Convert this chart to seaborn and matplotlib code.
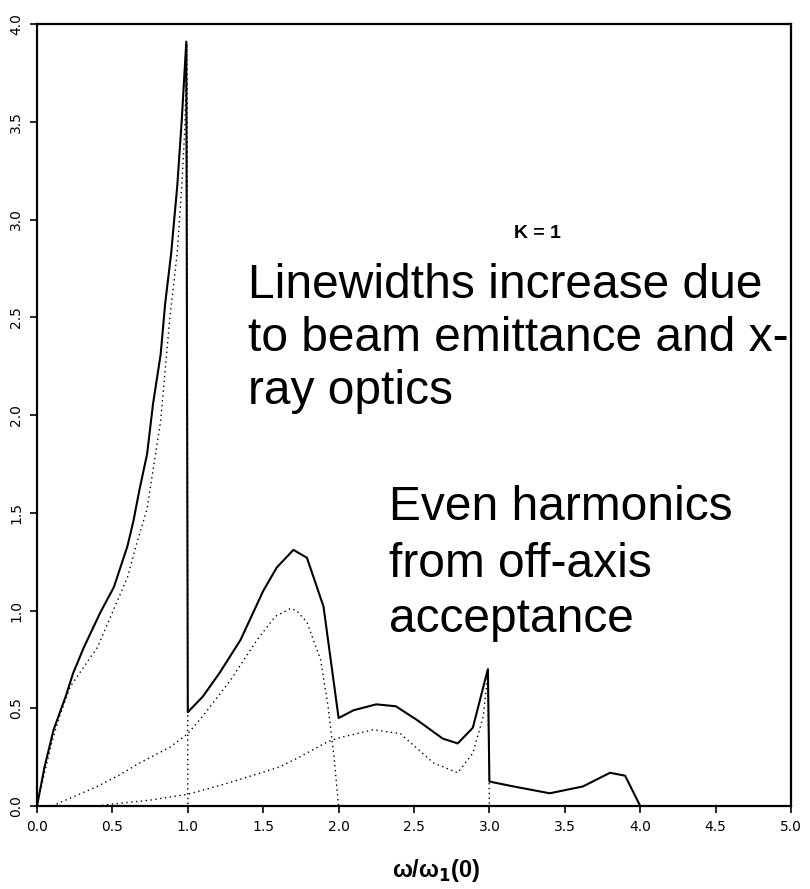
import matplotlib
matplotlib.use("Agg")
import matplotlib.pyplot as plt
import seaborn as sns
import pandas as pd

# ---- data ----
total_x = [0.0, 0.05, 0.11, 0.19, 0.24, 0.31, 0.42, 0.51, 0.60, 0.64, 0.68, 0.73, 0.77,
           0.82, 0.85, 0.89, 0.93, 0.96, 0.99, 1.0, 1.1, 1.21, 1.35, 1.50, 1.59, 1.70,
           1.79, 1.90, 2.0, 2.10, 2.25, 2.38, 2.52, 2.69, 2.79, 2.89, 2.99, 3.0, 3.16,
           3.40, 3.62, 3.80, 3.90, 4.0]
total_y = [0.0, 0.20, 0.39, 0.56, 0.68, 0.81, 0.99, 1.12, 1.33, 1.46, 1.62, 1.80, 2.06,
           2.31, 2.57, 2.83, 3.17, 3.51, 3.91, 0.48, 0.56, 0.68, 0.85, 1.10, 1.22, 1.31,
           1.27, 1.02, 0.45, 0.49, 0.52, 0.51, 0.44, 0.345, 0.32, 0.40, 0.70, 0.125, 0.10,
           0.065, 0.10, 0.17, 0.155, 0.0]

harm1_x = [0.0, 0.05, 0.10, 0.15, 0.22, 0.30, 0.40, 0.50, 0.60, 0.66, 0.73, 0.77, 0.82,
           0.85, 0.88, 0.93, 0.96, 0.98, 0.995, 1.0]
harm1_y = [0.0, 0.17, 0.33, 0.46, 0.61, 0.70, 0.81, 0.99, 1.17, 1.34, 1.52, 1.72, 1.97,
           2.23, 2.49, 2.83, 3.17, 3.46, 3.90, 0.0]

harm2_x = [0.10, 0.25, 0.40, 0.55, 0.68, 0.88, 1.0, 1.10, 1.28, 1.46, 1.58, 1.68, 1.72,
           1.79, 1.88, 1.93, 1.97, 2.0]
harm2_y = [0.0, 0.05, 0.10, 0.16, 0.22, 0.30, 0.37, 0.46, 0.64, 0.85, 0.97, 1.01, 1.0,
           0.94, 0.75, 0.51, 0.25, 0.0]

harm3_x = [0.40, 0.50, 0.75, 1.0, 1.28, 1.61, 1.74, 1.93, 2.01, 2.23, 2.41, 2.63, 2.79,
           2.89, 2.96, 2.99, 3.0]
harm3_y = [0.0, 0.01, 0.03, 0.06, 0.12, 0.20, 0.25, 0.33, 0.35, 0.39, 0.37, 0.22, 0.17,
           0.27, 0.46, 0.68, 0.0]

x_ticks = [0.0, 0.5, 1.0, 1.5, 2.0, 2.5, 3.0, 3.5, 4.0, 4.5, 5.0]
y_ticks = [0.0, 0.5, 1.0, 1.5, 2.0, 2.5, 3.0, 3.5, 4.0]

note1_lines = ["Linewidths increase due", "to beam emittance and x-", "ray optics"]
note2_lines = ["Even harmonics", "from off-axis", "acceptance"]

sns.set_style("ticks")
plt.rcParams['font.family'] = ['DejaVu Sans']
plt.rcParams['text.color'] = 'black'
plt.rcParams['xtick.color'] = 'black'
plt.rcParams['ytick.color'] = 'black'
plt.rcParams['axes.labelcolor'] = 'black'

fig = plt.figure(figsize=(8.1, 8.89), dpi=100)
ax = fig.add_axes([37 / 810, 1 - 806 / 889, (791 - 37) / 810, (806 - 24) / 889])

df_tot = pd.DataFrame({"x": total_x, "y": total_y})
sns.lineplot(data=df_tot, x="x", y="y", sort=False, estimator=None, ax=ax,
             color="black", linewidth=1.5)
for hx, hy in [(harm1_x, harm1_y), (harm2_x, harm2_y), (harm3_x, harm3_y)]:
    d = pd.DataFrame({"x": hx, "y": hy})
    sns.lineplot(data=d, x="x", y="y", sort=False, estimator=None, ax=ax,
                 color="black", linewidth=1.0, linestyle=(0, (1, 2.5)))

ax.set_xlim(0, 5)
ax.set_ylim(0, 4)
ax.set_xticks(x_ticks)
ax.set_yticks(y_ticks)
ax.set_xticklabels([f"{v:.1f}" for v in x_ticks], fontsize=10)
ax.set_yticklabels([f"{v:.1f}" for v in y_ticks], fontsize=10, rotation=90, va="center")
ax.tick_params(direction="out", length=5, width=1.2, pad=5, colors="black")
for s in ax.spines.values():
    s.set_visible(True)
    s.set_linewidth(1.6)
    s.set_color("black")

ax.set_xlabel(r"ω/ω$_\mathbf{1}$(0)", fontsize=17, fontweight="bold",
              family=["Liberation Sans", "DejaVu Sans"])
ax.xaxis.set_label_coords(0.529, -0.083)
ax.xaxis.label.set_va("center")
ax.set_ylabel("")

ax.text(3.16, 2.93, "K = 1", fontsize=14, fontweight="bold", va="center", ha="left",
        family=["Liberation Sans"])

# multi-line notes, one text per line (baselines in data units)
note1_base = [2.598, 2.327, 2.056]
note2_base = [1.463, 1.171, 0.890]
for line, yb in zip(note1_lines, note1_base):
    ax.text(1.399, yb, line, fontsize=34.5, va="baseline", ha="left",
            family=["Liberation Sans"])
for line, yb in zip(note2_lines, note2_base):
    ax.text(2.337, yb, line, fontsize=34.5, va="baseline", ha="left",
            family=["Liberation Sans"])

fig.savefig("out.png", dpi=100)
